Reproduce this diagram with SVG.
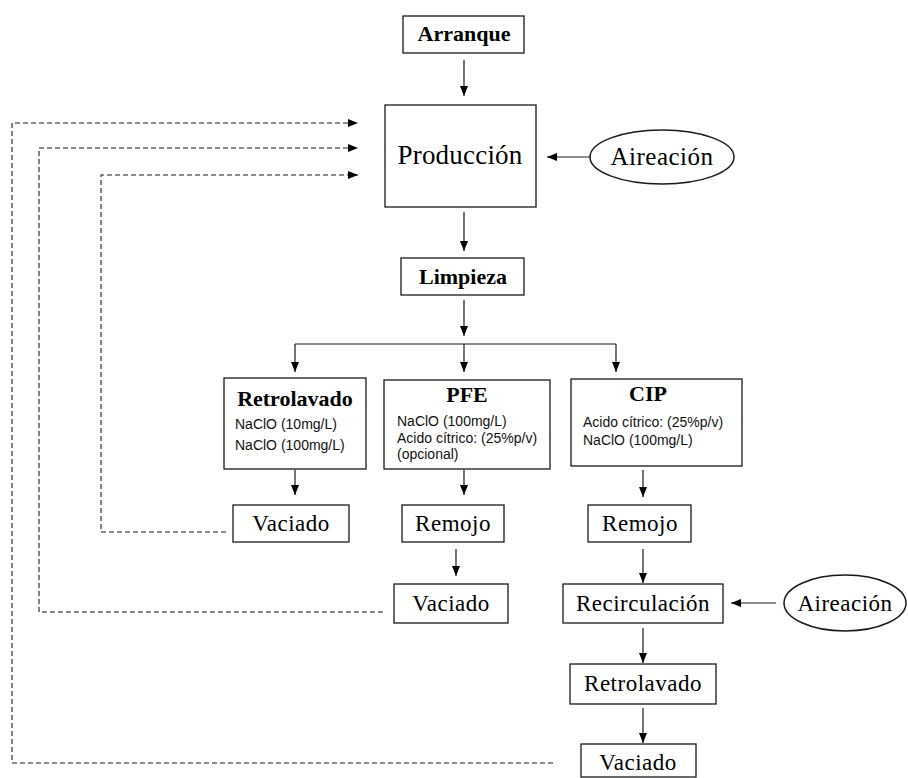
<svg xmlns="http://www.w3.org/2000/svg" width="908" height="778" viewBox="0 0 908 778">
  <style>
    .box { fill: #fff; stroke: #1a1a1a; stroke-width: 1.3; }
    .oval { fill: #fff; stroke: #1a1a1a; stroke-width: 1.5; }
    .lbl { font-family: "Liberation Serif", "DejaVu Serif", serif; font-size: 23px; letter-spacing: 0.5px; fill: #000; text-anchor: middle; }
    .big { font-size: 27px; letter-spacing: 0.2px; }
    .bold { font-weight: bold; font-size: 22px; letter-spacing: 0; }
    .note { font-family: "Liberation Sans", Arial, sans-serif; font-size: 14px; fill: #111; }
    .flow { fill: none; stroke: #1a1a1a; stroke-width: 1.2; }
    .dash { fill: none; stroke: #1a1a1a; stroke-width: 1.1; stroke-dasharray: 5 3; }
  </style>
  <defs>
    <marker id="head" markerWidth="10" markerHeight="10" refX="10" refY="5" orient="auto" markerUnits="userSpaceOnUse">
      <path d="M0,1 L10,5 L0,9 Z" fill="#000"/>
    </marker>
  </defs>
  <rect width="908" height="778" fill="#fff"/>

  <!-- connectors -->
  <g id="connectors">
    <line class="flow" x1="464" y1="60" x2="464" y2="96" marker-end="url(#head)"/>
    <line class="flow" x1="590" y1="157" x2="547" y2="157" marker-end="url(#head)"/>
    <line class="flow" x1="464" y1="212" x2="464" y2="251" marker-end="url(#head)"/>
    <line class="flow" x1="464" y1="300" x2="464" y2="336" marker-end="url(#head)"/>
    <polyline class="flow" points="295,344 616,344"/>
    <line class="flow" x1="295" y1="344" x2="295" y2="372" marker-end="url(#head)"/>
    <line class="flow" x1="464" y1="344" x2="464" y2="372" marker-end="url(#head)"/>
    <line class="flow" x1="616" y1="344" x2="616" y2="372" marker-end="url(#head)"/>
    <line class="flow" x1="295" y1="470" x2="295" y2="495" marker-end="url(#head)"/>
    <line class="flow" x1="464" y1="470" x2="464" y2="495" marker-end="url(#head)"/>
    <line class="flow" x1="643" y1="470" x2="643" y2="497" marker-end="url(#head)"/>
    <line class="flow" x1="456" y1="549" x2="456" y2="576" marker-end="url(#head)"/>
    <line class="flow" x1="643" y1="549" x2="643" y2="583" marker-end="url(#head)"/>
    <line class="flow" x1="776" y1="603" x2="731" y2="603" marker-end="url(#head)"/>
    <line class="flow" x1="643" y1="628" x2="643" y2="663" marker-end="url(#head)"/>
    <line class="flow" x1="643" y1="708" x2="643" y2="743" marker-end="url(#head)"/>
    <!-- return paths back to production -->
    <polyline class="dash" points="226,532 101,532 101,175 358,175" marker-end="url(#head)"/>
    <polyline class="dash" points="383,612 39,612 39,148 358,148" marker-end="url(#head)"/>
    <polyline class="dash" points="553,763 12,763 12,123 358,123" marker-end="url(#head)"/>
  </g>

  <g id="arranque">
    <rect class="box" x="403" y="16" width="121" height="37"/>
    <text class="lbl bold" x="464" y="41">Arranque</text>
  </g>
  <g id="produccion">
    <rect class="box" x="385" y="105" width="151" height="102"/>
    <text class="lbl big" x="460" y="164">Producción</text>
  </g>
  <g id="aireacion-1">
    <ellipse class="oval" cx="662" cy="157" rx="72" ry="27"/>
    <text class="lbl" x="662" y="165" style="font-size:25px">Aireación</text>
  </g>
  <g id="limpieza">
    <rect class="box" x="401" y="258" width="123" height="37"/>
    <text class="lbl bold" x="463" y="284">Limpieza</text>
  </g>
  <g id="retrolavado">
    <rect class="box" x="224" y="378" width="142" height="91"/>
    <text class="lbl bold" x="295" y="406">Retrolavado</text>
    <text class="note" x="235" y="429">NaClO (10mg/L)</text>
    <text class="note" x="235" y="450">NaClO (100mg/L)</text>
  </g>
  <g id="pfe">
    <rect class="box" x="384" y="380" width="166" height="89"/>
    <text class="lbl bold" x="467" y="402">PFE</text>
    <text class="note" x="397" y="426">NaClO (100mg/L)</text>
    <text class="note" x="397" y="443">Acido cítrico: (25%p/v)</text>
    <text class="note" x="397" y="459">(opcional)</text>
  </g>
  <g id="cip">
    <rect class="box" x="571" y="379" width="171" height="87"/>
    <text class="lbl bold" x="648" y="401">CIP</text>
    <text class="note" x="583" y="427">Acido cítrico: (25%p/v)</text>
    <text class="note" x="583" y="445">NaClO (100mg/L)</text>
  </g>
  <g id="vaciado-retro">
    <rect class="box" x="233" y="505" width="116" height="37"/>
    <text class="lbl" x="291" y="531">Vaciado</text>
  </g>
  <g id="remojo-pfe">
    <rect class="box" x="402" y="505" width="102" height="37"/>
    <text class="lbl" x="453" y="531">Remojo</text>
  </g>
  <g id="remojo-cip">
    <rect class="box" x="588" y="505" width="103" height="37"/>
    <text class="lbl" x="640" y="531">Remojo</text>
  </g>
  <g id="vaciado-pfe">
    <rect class="box" x="394" y="584" width="114" height="39"/>
    <text class="lbl" x="451" y="611">Vaciado</text>
  </g>
  <g id="recirculacion">
    <rect class="box" x="563" y="584" width="160" height="39"/>
    <text class="lbl" x="643" y="611">Recirculación</text>
  </g>
  <g id="aireacion-2">
    <ellipse class="oval" cx="845" cy="603" rx="61" ry="28"/>
    <text class="lbl" x="845" y="611">Aireación</text>
  </g>
  <g id="retrolavado-cip">
    <rect class="box" x="570" y="664" width="146" height="40"/>
    <text class="lbl" x="643" y="691">Retrolavado</text>
  </g>
  <g id="vaciado-cip">
    <rect class="box" x="581" y="744" width="115" height="33"/>
    <text class="lbl" x="638" y="770">Vaciado</text>
  </g>
</svg>
